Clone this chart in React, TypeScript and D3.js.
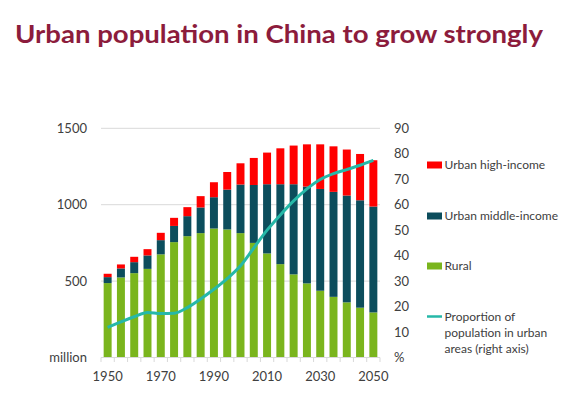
import React from "react";
import * as d3 from "d3";

// Years on the x axis (every 5 years)
const years = [
  1950, 1955, 1960, 1965, 1970, 1975, 1980, 1985, 1990, 1995, 2000,
  2005, 2010, 2015, 2020, 2025, 2030, 2035, 2040, 2045, 2050,
];

// Population in million, stacked bottom to top
const rural = [
  487, 524, 552, 580, 675, 755, 794, 814, 844, 838, 814,
  750, 681, 611, 544, 485, 437, 397, 361, 326, 295,
];
const urbanMiddle = [
  39, 59, 72, 88, 93, 106, 131, 168, 205, 261, 318,
  379, 453, 523, 590, 634, 666, 687, 699, 703, 693,
];
const urbanHigh = [
  22, 26, 35, 41, 48, 53, 59, 74, 98, 115, 139,
  177, 207, 235, 253, 276, 292, 298, 301, 303, 303,
];

// Proportion of population in urban areas, % (right axis)
const urbanShare = [
  11.8, 14.0, 16.0, 17.7, 17.3, 17.4, 19.6, 23.0, 26.8, 31.0, 36.0,
  43.0, 50.0, 56.0, 61.5, 66.2, 69.9, 72.2, 73.8, 75.5, 77.4,
];

const leftTicks = [500, 1000, 1500];
const rightTicks = [10, 20, 30, 40, 50, 60, 70, 80, 90];
const yearLabels = [1950, 1970, 1990, 2010, 2030, 2050];

const seriesNames = ["Rural", "Urban middle-income", "Urban high-income"];
const seriesColors = ["#7ab51d", "#0c4d5c", "#ff0000"];
const lineColor = "#26b8a8";
const font = "Lato, 'Open Sans', sans-serif";
const textColor = "#404040";

const App = () => {
  const x = d3
    .scaleBand<number>()
    .domain(years)
    .range([101, 380])
    .paddingInner(0.4)
    .paddingOuter(0.2);
  const yLeft = d3.scaleLinear().domain([0, 1500]).range([357.5, 128.3]);
  const yRight = d3.scaleLinear().domain([0, 90]).range([357.5, 128.3]);

  const rows = years.map((year, i) => ({
    year,
    Rural: rural[i],
    "Urban middle-income": urbanMiddle[i],
    "Urban high-income": urbanHigh[i],
  }));
  const stacked = d3.stack<any>().keys(seriesNames)(rows);

  const line = d3
    .line<number>()
    .x((_, i) => (x(years[i]) ?? 0) + x.bandwidth() / 2)
    .y((d) => yRight(d))
    .curve(d3.curveMonotoneX);

  const step = x.step();
  const boundaries = d3.range(years.length + 1).map(
    (i) => (x(years[0]) ?? 0) - (step - x.bandwidth()) / 2 + i * step
  );

  return (
    <svg
      width={562}
      height={397}
      style={{ position: "absolute", left: 0, top: 0, background: "#fff" }}
    >
      <text
        x={15}
        y={43}
        fontFamily={font}
        fontWeight="bold"
        fontSize={25}
        fill="#8c1c3c"
        textLength={528}
        lengthAdjust="spacingAndGlyphs"
      >
        Urban population in China to grow strongly
      </text>

      {/* gridlines */}
      {leftTicks.map((t) => (
        <line
          key={t}
          x1={101}
          x2={380}
          y1={yLeft(t)}
          y2={yLeft(t)}
          stroke="#d9d9d9"
          strokeWidth={1}
        />
      ))}

      {/* stacked bars */}
      {stacked.map((s, si) => (
        <g key={s.key} fill={seriesColors[si]}>
          {s.map((d, i) => (
            <rect
              key={i}
              x={x(years[i])}
              width={x.bandwidth()}
              y={yLeft(d[1])}
              height={yLeft(d[0]) - yLeft(d[1])}
            />
          ))}
        </g>
      ))}

      {/* x axis */}
      <line x1={101} x2={380} y1={357.5} y2={357.5} stroke="#d9d9d9" />
      {boundaries.map((bx, i) => (
        <line key={i} x1={bx} x2={bx} y1={357.5} y2={362} stroke="#d9d9d9" />
      ))}
      {yearLabels.map((yr) => (
        <text
          key={yr}
          x={(x(yr) ?? 0) + x.bandwidth() / 2}
          y={381}
          textAnchor="middle"
          fontFamily={font}
          fontSize={13}
          fill={textColor}
        >
          {yr}
        </text>
      ))}

      {/* left axis labels */}
      {leftTicks.map((t) => (
        <text
          key={t}
          x={87}
          y={yLeft(t)}
          dy="0.35em"
          textAnchor="end"
          fontFamily={font}
          fontSize={13}
          fill={textColor}
        >
          {t}
        </text>
      ))}
      <text
        x={87}
        y={yLeft(0)}
        dy="0.35em"
        textAnchor="end"
        fontFamily={font}
        fontSize={13}
        fill={textColor}
      >
        million
      </text>

      {/* right axis labels */}
      {rightTicks.map((t) => (
        <text
          key={t}
          x={394}
          y={yRight(t)}
          dy="0.35em"
          fontFamily={font}
          fontSize={13}
          fill={textColor}
        >
          {t}
        </text>
      ))}
      <text
        x={394}
        y={yRight(0)}
        dy="0.35em"
        fontFamily={font}
        fontSize={13}
        fill={textColor}
      >
        %
      </text>

      {/* urban share line */}
      <path
        d={line(urbanShare) ?? ""}
        fill="none"
        stroke={lineColor}
        strokeWidth={3}
      />

      {/* legend */}
      {[2, 1, 0].map((si, k) => (
        <g key={si}>
          <rect
            x={427}
            y={[165, 216, 266][k] - 3.5}
            width={15}
            height={7}
            fill={seriesColors[si]}
          />
          <text
            x={444.5}
            y={[165, 216, 266][k]}
            dy="0.35em"
            fontFamily={font}
            fontSize={12}
            fill={textColor}
          >
            {seriesNames[si]}
          </text>
        </g>
      ))}
      <line
        x1={427}
        x2={442}
        y1={316.5}
        y2={316.5}
        stroke={lineColor}
        strokeWidth={2.5}
      />
      {["Proportion of", "population in urban", "areas (right axis)"].map(
        (l, i) => (
          <text
            key={i}
            x={444.5}
            y={316.5 + i * 16.3}
            dy="0.35em"
            fontFamily={font}
            fontSize={12}
            fill={textColor}
          >
            {l}
          </text>
        )
      )}
    </svg>
  );
};

export default App;
